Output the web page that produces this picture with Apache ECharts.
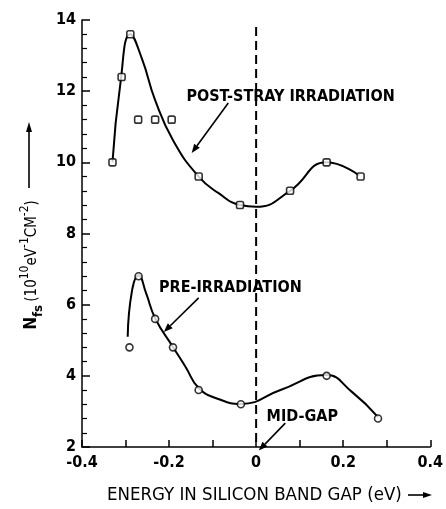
<!DOCTYPE html>
<html><head><meta charset="utf-8">
<script src="https://cdn.jsdelivr.net/npm/echarts@6/dist/echarts.min.js"></script>
<style>html,body{margin:0;padding:0;background:#fff}#c{width:446px;height:509px}</style>
</head><body><div id="c"></div>
<script>
// ---- data ----
const xTickLabels = ['-0.4', '-0.2', '0', '0.2', '0.4'];
const yTickLabels = ['2', '4', '6', '8', '10', '12', '14'];

const postX = [-0.33, -0.309, -0.289, -0.271, -0.232, -0.194, -0.132, -0.037, 0.078, 0.162, 0.24];
const postY = [10.0, 12.4, 13.6, 11.2, 11.2, 11.2, 9.6, 8.8, 9.2, 10.0, 9.6];

const preX = [-0.291, -0.27, -0.232, -0.191, -0.132, -0.035, 0.162, 0.28];
const preY = [4.8, 6.8, 5.6, 4.8, 3.6, 3.2, 4.0, 2.8];

// hand-drawn fitted curves
const postCurveX = [-0.33, -0.312, -0.289, -0.262, -0.232, -0.19, -0.132, -0.087, -0.037, 0, 0.078, 0.162, 0.237];
const postCurveY = [10.0, 12.2, 13.6, 12.9, 11.75, 10.6, 9.6, 9.14, 8.8, 8.75, 9.2, 10.0, 9.63];

const preCurveX = [-0.295, -0.285, -0.27, -0.253, -0.232, -0.191, -0.162, -0.132, -0.087, -0.035, 0.056, 0.16, 0.22, 0.28];
const preCurveY = [5.1, 6.4, 6.83, 6.33, 5.62, 4.81, 4.25, 3.66, 3.35, 3.21, 3.6, 4.02, 3.55, 2.84];

const midGapLine = [[0, 13.8], [0, 2]];

const FONT = '"Liberation Sans Narrow", "DejaVu Sans Condensed", "Liberation Sans", sans-serif';

function pairs(xs, ys) { return xs.map((x, i) => [x, ys[i]]); }

const chart = echarts.init(document.getElementById('c'), null, { renderer: 'canvas' });

const option = {
  animation: false,
  backgroundColor: '#fff',
  grid: { left: 82, right: 11, top: 20, bottom: 62, containLabel: false },
  xAxis: {
    type: 'value', min: -0.4, max: 0.4, interval: 0.2,
    axisLine: { show: true, onZero: false, lineStyle: { color: '#000', width: 1.5 } },
    axisTick: { show: true, inside: true, length: 7, lineStyle: { color: '#000', width: 1.5 } },
    minorTick: { show: true, splitNumber: 2, length: 7, lineStyle: { color: '#000', width: 1.5 } },
    splitLine: { show: false },
    axisLabel: {
      color: '#000', fontFamily: FONT, fontSize: 16, fontWeight: 'bold', margin: 8,
      formatter: v => xTickLabels[Math.round((v + 0.4) / 0.2)] ?? ''
    }
  },
  yAxis: {
    type: 'value', min: 2, max: 14, interval: 2,
    axisLine: { show: true, onZero: false, lineStyle: { color: '#000', width: 1.5 } },
    axisTick: { show: true, inside: true, length: 8, lineStyle: { color: '#000', width: 1.5 } },
    minorTick: { show: true, splitNumber: 5, length: 5, lineStyle: { color: '#000', width: 1.2 } },
    splitLine: { show: false },
    axisLabel: {
      color: '#000', fontFamily: FONT, fontSize: 16, fontWeight: 'bold', margin: 6,
      formatter: v => yTickLabels[Math.round((v - 2) / 2)] ?? ''
    }
  },
  series: [
    {
      name: 'mid-gap', type: 'line', data: midGapLine, showSymbol: false, silent: true,
      lineStyle: { color: '#000', width: 2, type: [9, 5] }, z: 1
    },
    {
      name: 'post curve', type: 'line', data: pairs(postCurveX, postCurveY), smooth: 0.5,
      showSymbol: false, silent: true, lineStyle: { color: '#000', width: 2 }, z: 2
    },
    {
      name: 'pre curve', type: 'line', data: pairs(preCurveX, preCurveY), smooth: 0.5,
      showSymbol: false, silent: true, lineStyle: { color: '#000', width: 2 }, z: 2
    },
    {
      name: 'POST-STRAY IRRADIATION', type: 'scatter', data: pairs(postX, postY),
      symbol: 'roundRect', symbolSize: 7,
      itemStyle: { color: '#fff', borderColor: '#000', borderWidth: 1.6 }, z: 5
    },
    {
      name: 'PRE-IRRADIATION', type: 'scatter', data: pairs(preX, preY),
      symbol: 'circle', symbolSize: 7,
      itemStyle: { color: '#fff', borderColor: '#000', borderWidth: 1.6 }, z: 5
    }
  ]
};
chart.setOption(option);

// ---- annotations ----
const P = (x, y) => chart.convertToPixel({ gridIndex: 0 }, [x, y]);

function arrow(p0, p1, head, w) {
  const dx = p1[0] - p0[0], dy = p1[1] - p0[1];
  const L = Math.hypot(dx, dy), ux = dx / L, uy = dy / L;
  const bx = p1[0] - ux * head, by = p1[1] - uy * head;
  return [
    { type: 'line', shape: { x1: p0[0], y1: p0[1], x2: bx, y2: by }, style: { stroke: '#000', lineWidth: 1.6 } },
    { type: 'polygon', shape: { points: [p1, [bx - uy * w, by + ux * w], [bx + uy * w, by - ux * w]] }, style: { fill: '#000' } }
  ];
}

const textStyle = (t, x, y) => ({
  type: 'text', x, y,
  style: { text: t, fill: '#000', font: 'bold 16px ' + FONT, textVerticalAlign: 'middle', textAlign: 'left' }
});

const postTxt = P(-0.16, 11.84);
const preTxt = P(-0.223, 6.47);
const midTxt = P(0.024, 2.84);

const graphics = [
  textStyle('POST-STRAY IRRADIATION', postTxt[0], postTxt[1]),
  ...arrow(P(-0.064, 11.67), P(-0.148, 10.26), 9, 3.5),
  textStyle('PRE-IRRADIATION', preTxt[0], preTxt[1]),
  ...arrow(P(-0.132, 6.19), P(-0.212, 5.23), 9, 3.5),
  textStyle('MID-GAP', midTxt[0], midTxt[1]),
  ...arrow(P(0.067, 2.67), P(0.006, 1.9), 9, 3.5),
  // x axis title
  {
    type: 'text', x: 107, y: 495,
    style: { text: 'ENERGY IN SILICON BAND GAP (eV)', fill: '#000', font: '18.5px ' + FONT, textVerticalAlign: 'middle', textAlign: 'left' }
  },
  ...arrow([408, 495], [432, 495], 9, 3),
  // y axis title (rotated)
  {
    type: 'text', x: 32, y: 265, rotation: Math.PI / 2,
    style: {
      text: '{n|N}{sub|fs} {p|(10}{sup|10}{p|eV}{sup|-1}{p|CM}{sup|-2}{p|)}',
      fill: '#000', textAlign: 'center', textVerticalAlign: 'middle',
      rich: {
        n: { fontFamily: FONT, fontSize: 17, fontWeight: 'bold', lineHeight: 26, verticalAlign: 'middle' },
        sub: { fontFamily: FONT, fontSize: 13, fontWeight: 'bold', lineHeight: 26, verticalAlign: 'bottom' },
        p: { fontFamily: FONT, fontSize: 15, lineHeight: 26, verticalAlign: 'middle' },
        sup: { fontFamily: FONT, fontSize: 12, lineHeight: 26, verticalAlign: 'top' }
      }
    }
  },
  ...arrow([29, 188], [29, 122], 10, 3)
];
chart.setOption({ graphic: graphics });
</script>
</body></html>
